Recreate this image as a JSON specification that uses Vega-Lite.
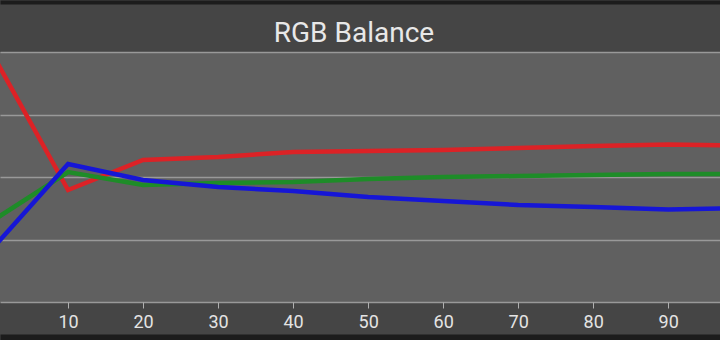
{
  "$schema": "https://vega.github.io/schema/vega-lite/v6.json",
  "width": 720,
  "height": 250,
  "autosize": "none",
  "padding": {"top": 52, "bottom": 38, "left": 0, "right": 0},
  "background": "#454545",
  "title": {"text": "RGB Balance", "font": "Roboto", "fontSize": 28, "fontWeight": "normal", "color": "#e8e8e8", "anchor": "middle", "offset": -46, "dx": -6},
  "config": {"view": {"fill": "#606060", "stroke": null}},
  "data": {"values": [
    {"x": 0, "value": 109.76, "channel": "R"},
    {"x": 10, "value": 98.96, "channel": "R"},
    {"x": 20, "value": 101.36, "channel": "R"},
    {"x": 30, "value": 101.6, "channel": "R"},
    {"x": 40, "value": 102.0, "channel": "R"},
    {"x": 50, "value": 102.08, "channel": "R"},
    {"x": 60, "value": 102.16, "channel": "R"},
    {"x": 70, "value": 102.32, "channel": "R"},
    {"x": 80, "value": 102.48, "channel": "R"},
    {"x": 90, "value": 102.6, "channel": "R"},
    {"x": 100, "value": 102.52, "channel": "R"},
    {"x": 0, "value": 96.52, "channel": "G"},
    {"x": 10, "value": 100.4, "channel": "G"},
    {"x": 20, "value": 99.36, "channel": "G"},
    {"x": 30, "value": 99.52, "channel": "G"},
    {"x": 40, "value": 99.6, "channel": "G"},
    {"x": 50, "value": 99.84, "channel": "G"},
    {"x": 60, "value": 100.0, "channel": "G"},
    {"x": 70, "value": 100.08, "channel": "G"},
    {"x": 80, "value": 100.16, "channel": "G"},
    {"x": 90, "value": 100.24, "channel": "G"},
    {"x": 100, "value": 100.24, "channel": "G"},
    {"x": 0, "value": 94.32, "channel": "B"},
    {"x": 10, "value": 101.04, "channel": "B"},
    {"x": 20, "value": 99.76, "channel": "B"},
    {"x": 30, "value": 99.2, "channel": "B"},
    {"x": 40, "value": 98.88, "channel": "B"},
    {"x": 50, "value": 98.4, "channel": "B"},
    {"x": 60, "value": 98.08, "channel": "B"},
    {"x": 70, "value": 97.76, "channel": "B"},
    {"x": 80, "value": 97.6, "channel": "B"},
    {"x": 90, "value": 97.4, "channel": "B"},
    {"x": 100, "value": 97.52, "channel": "B"}
  ]},
  "layer": [
    {
      "mark": {"type": "line", "strokeWidth": 4.5, "clip": true},
      "encoding": {
        "x": {"field": "x", "type": "quantitative", "scale": {"domain": [0.93, 96.9], "nice": false, "zero": false},
          "axis": {"orient": "bottom", "values": [10, 20, 30, 40, 50, 60, 70, 80, 90], "title": null, "grid": false, "domain": false,
            "tickColor": "#b0b0b0", "tickSize": 6, "tickWidth": 1, "labelColor": "#e4e4e4", "labelFont": "Roboto", "labelFontSize": 18, "labelPadding": 5}},
        "y": {"field": "value", "type": "quantitative", "scale": {"domain": [90, 110], "nice": false, "zero": false},
          "axis": {"values": [90, 95, 100, 105, 110], "title": null, "labels": false, "ticks": false, "domain": false, "grid": true, "gridColor": "#999999", "gridWidth": 1.5, "gridOpacity": 1}},
        "color": {"field": "channel", "type": "nominal", "scale": {"domain": ["R", "G", "B"], "range": ["#dc2226", "#1e8c28", "#1616d6"]}, "legend": null},
        "detail": {"field": "channel"}
      }
    },
    {
      "mark": {"type": "line", "opacity": 0},
      "encoding": {
        "x": {"field": "x", "type": "quantitative",
          "axis": {"orient": "top", "title": null, "labels": false, "ticks": false, "grid": false, "domain": true, "domainColor": "#1c1c1c", "domainWidth": 4, "offset": 50}},
        "y": {"field": "value", "type": "quantitative"},
        "detail": {"field": "channel"}
      }
    },
    {
      "mark": {"type": "line", "opacity": 0},
      "encoding": {
        "x": {"field": "x", "type": "quantitative",
          "axis": {"orient": "bottom", "title": null, "labels": false, "ticks": false, "grid": false, "domain": true, "domainColor": "#1c1c1c", "domainWidth": 6, "offset": 35}},
        "y": {"field": "value", "type": "quantitative"},
        "detail": {"field": "channel"}
      }
    }
  ],
  "resolve": {"axis": {"x": "independent"}}
}
